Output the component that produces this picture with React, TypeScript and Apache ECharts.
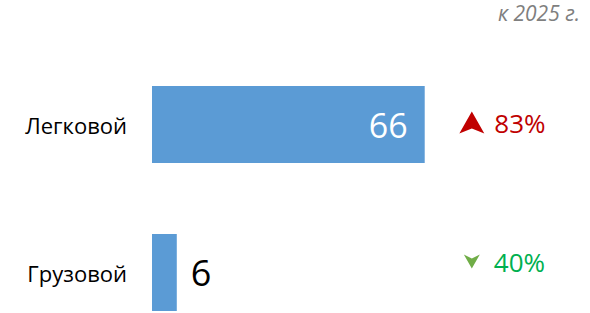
import React, { useEffect, useRef } from "react";
import * as echarts from "echarts";

const categories = ["Легковой", "Грузовой"];
const values = [66, 6];
const changes = [83, 40];
const directions = ["up", "down"];
const subtitle = "к 2025 г.";

const FONT = "'Open Sans', sans-serif";
const ANNOT_X = 77.4;

export default function App() {
  const ref = useRef<HTMLDivElement>(null);
  useEffect(() => {
    document.body.style.margin = "0";
    const chart = echarts.init(ref.current!, null, { renderer: "svg" });
    const barData = values.map((v, i) => ({
      value: v,
      label:
        i === 0
          ? { show: true, position: "insideRight", distance: 17, color: "#ffffff", fontSize: 34 }
          : { show: true, position: "right", distance: 14, color: "#000000", fontSize: 36 },
    }));
    const annotData = changes.map((c, i) => {
      const up = directions[i] === "up";
      return {
        value: [ANNOT_X, categories[i]],
        symbol: up
          ? "path://M0,22 L12.5,0 L25,22 L12.5,17 Z"
          : "path://M0,0 L8,4 L16,0 L8,14 Z",
        symbolSize: up ? [25, 22] : [16, 14],
        symbolOffset: up ? [0, -2] : [0, -11],
        itemStyle: { color: up ? "#C00000" : "#70AD47", opacity: 1 },
        label: {
          show: true,
          position: "right",
          distance: up ? 10 : 14,
          color: up ? "#C00000" : "#00B050",
          fontSize: 26,
          fontFamily: FONT,
          formatter: c + "%",
        },
      };
    });
    chart.setOption({
      animation: false,
      textStyle: { fontFamily: FONT },
      title: {
        text: subtitle,
        right: 10,
        top: 2,
        padding: 0,
        textStyle: {
          fontSize: 21,
          fontStyle: "italic",
          fontWeight: "normal",
          color: "#7F7F7F",
          fontFamily: FONT,
        },
      },
      grid: { left: 152, top: 124.5, width: 438, height: 148, containLabel: false },
      xAxis: { type: "value", min: 0, max: 106, show: false },
      yAxis: {
        type: "category",
        inverse: true,
        boundaryGap: false,
        data: categories,
        axisLine: { show: false },
        axisTick: { show: false },
        splitLine: { show: false },
        axisLabel: { margin: 25, fontSize: 22, color: "#000000", fontFamily: FONT },
      },
      series: [
        {
          type: "bar",
          data: barData,
          barWidth: 77,
          itemStyle: { color: "#5B9BD5" },
          label: { fontFamily: FONT },
        },
        {
          type: "scatter",
          itemStyle: { opacity: 1 },
          data: annotData,
        },
      ],
    });
    return () => chart.dispose();
  }, []);
  return <div ref={ref} style={{ width: 590, height: 313 }} />;
}
